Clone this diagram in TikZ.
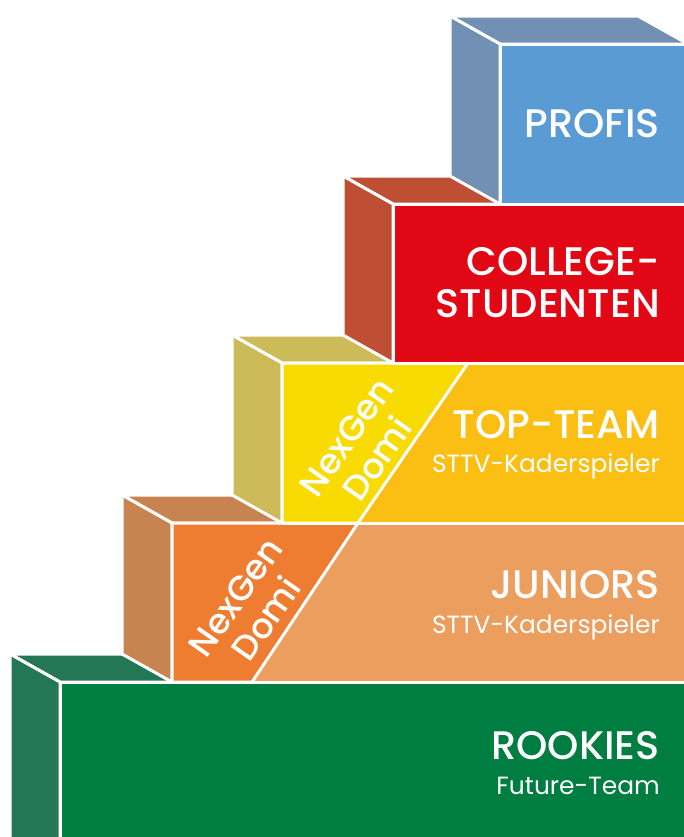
\documentclass[tikz,border=0pt]{standalone}
\usepackage{fontspec}
\setmainfont{Poppins}
\newfontfamily\pmed{Poppins Medium}
\definecolor{gfront}{HTML}{007D40}
\definecolor{gside}{HTML}{247754}
\definecolor{olight}{HTML}{EC9E5E}
\definecolor{odark}{HTML}{EE7D32}
\definecolor{oside}{HTML}{C88450}
\definecolor{ygold}{HTML}{FBBE13}
\definecolor{ybright}{HTML}{F9DB04}
\definecolor{yside}{HTML}{CDBB59}
\definecolor{rfront}{HTML}{E20714}
\definecolor{rside}{HTML}{BF4F34}
\definecolor{bfront}{HTML}{5A9BD4}
\definecolor{bside}{HTML}{7290B4}
\begin{document}
\begin{tikzpicture}[x=1bp,y=-1bp,
  face/.style={draw=white,line width=3bp,line join=round},
  lbl/.style={text=white,anchor=base east,inner sep=0pt,font=\pmed\fontsize{40}{40}\selectfont},
  sublbl/.style={text=white,anchor=base east,inner sep=0pt,font=\fontsize{25}{25}\selectfont},
  nexgen/.style={text=white,rotate=55,align=center,inner sep=0pt,font=\pmed\fontsize{35}{38}\selectfont}]
\useasboundingbox (0,0) rectangle (684,837);
\clip (0,0) rectangle (684,837);
% ROOKIES (green)
\fill[gside,face] (10,654) -- (638,654) -- (688,682) -- (60,682) -- cycle;
\fill[gside,face] (10,654) -- (60,682) -- (60,870) -- (10,842) -- cycle;
\fill[gfront,face] (60,682) rectangle (688,870);
% JUNIORS (orange)
\fill[oside,face] (122,495) -- (638,495) -- (688,523) -- (172,523) -- cycle;
\fill[oside,face] (122,495) -- (172,523) -- (172,682) -- (122,654) -- cycle;
\fill[olight,face] (172,523) rectangle (688,682);
\fill[odark,face] (172,523) -- (358,523) -- (252,682) -- (172,682) -- cycle;
% TOP-TEAM (yellow)
\fill[yside,face] (232,335) -- (638,335) -- (688,363) -- (282,363) -- cycle;
\fill[yside,face] (232,335) -- (282,363) -- (282,523) -- (232,495) -- cycle;
\fill[ygold,face] (282,363) rectangle (688,523);
\fill[ybright,face] (282,363) -- (468,363) -- (358,523) -- (282,523) -- cycle;
% COLLEGE (red)
\fill[rside,face] (343,176) -- (638,176) -- (688,204) -- (393,204) -- cycle;
\fill[rside,face] (343,176) -- (393,204) -- (393,363) -- (343,335) -- cycle;
\fill[rfront,face] (393,204) rectangle (688,363);
% PROFIS (blue)
\fill[bside,face] (450,16) -- (638,16) -- (688,44) -- (500,44) -- cycle;
\fill[bside,face] (450,16) -- (500,44) -- (500,204) -- (450,176) -- cycle;
\fill[bfront,face] (500,44) rectangle (688,204);
% labels
\node[lbl] (profis) at (660,137) {PROFIS};
\node[lbl] (college) at (660,275) {COLLEGE-};
\node[lbl] (studenten) at (660,317) {STUDENTEN};
\node[lbl] (topteam) at (660,438) {TOP-TEAM};
\node[sublbl] (topsub) at (660,472) {STTV-Kaderspieler};
\node[lbl] (juniors) at (660,598) {JUNIORS};
\node[sublbl] (junsub) at (660,633) {STTV-Kaderspieler};
\node[lbl] (rookies) at (660,759) {ROOKIES};
\node[sublbl] (rooksub) at (660,794) {Future-Team};
\node[nexgen] (ngtop) at (362,448) {NexGen\\Domi};
\node[nexgen] (ngjun) at (251,608) {NexGen\\Domi};
\end{tikzpicture}
\end{document}
